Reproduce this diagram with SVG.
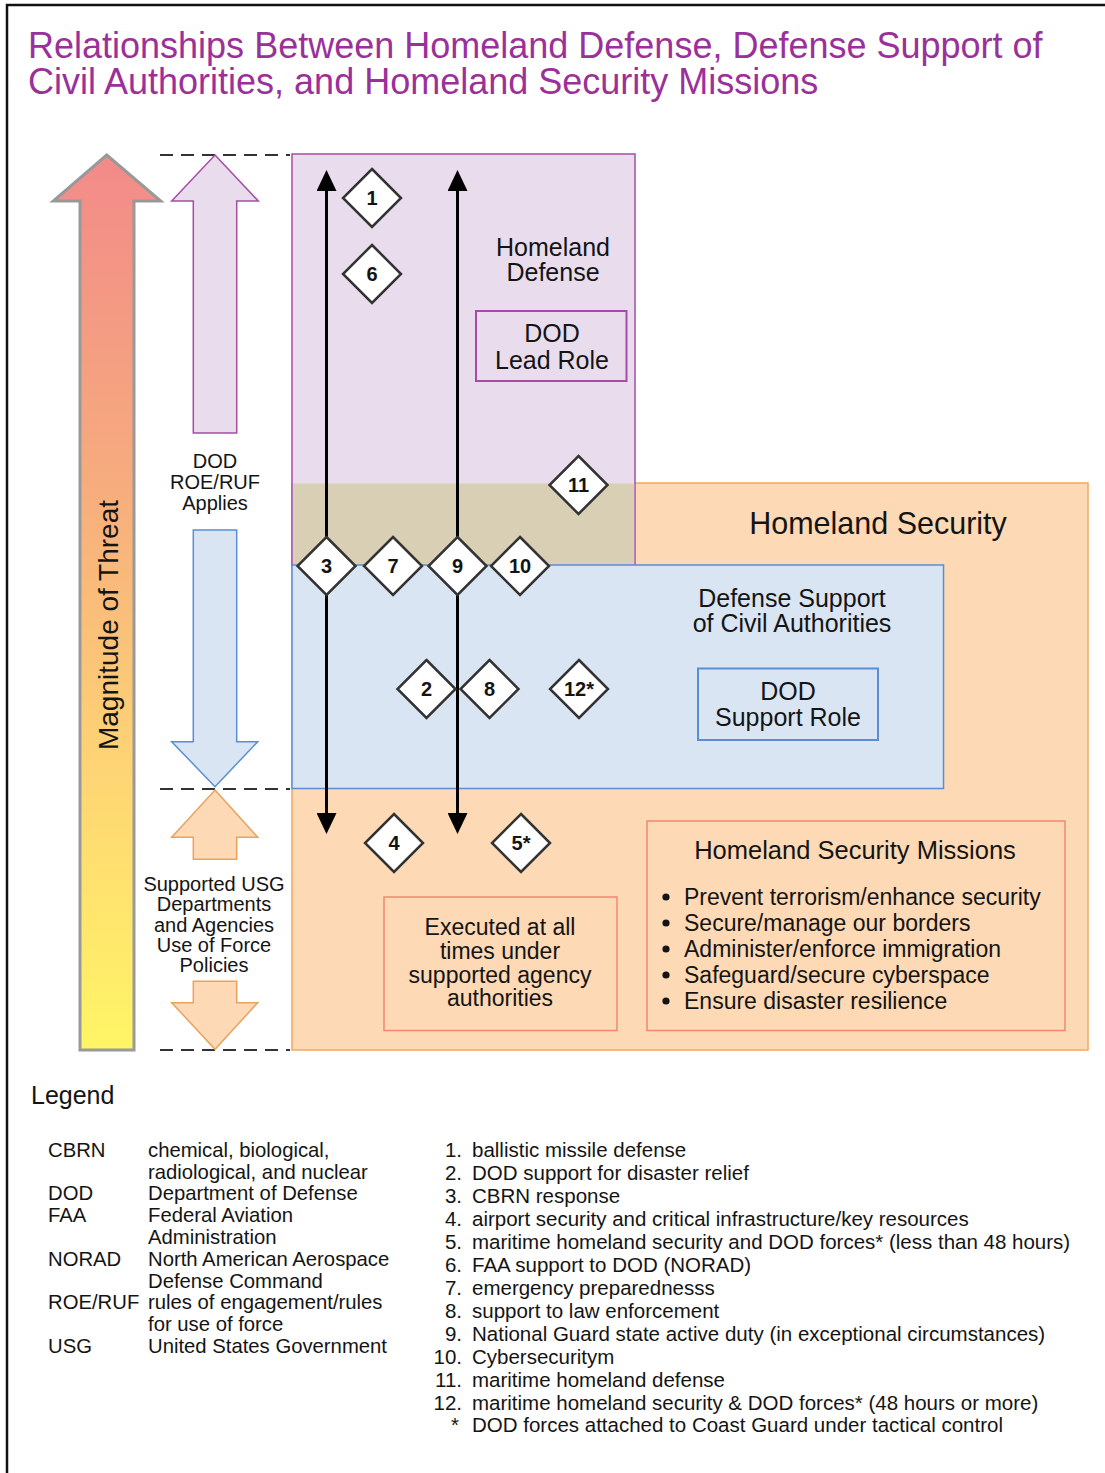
<svg xmlns="http://www.w3.org/2000/svg" width="1105" height="1473" viewBox="0 0 1105 1473">
<style>
text{font-family:"Liberation Sans",Arial,sans-serif;fill:#141414}
.title{font-size:36px;fill:#9B309B}
.c{text-anchor:middle}
.dia{fill:#fff;stroke:#333;stroke-width:2.5}
.dn{font-size:20px;font-weight:bold;text-anchor:middle}
.dash{stroke:#333;stroke-width:2;stroke-dasharray:13 8;fill:none}
.lg{font-size:20.3px}
.nl{font-size:20.5px}
</style>
<defs>
<linearGradient id="threat" x1="0" y1="155" x2="0" y2="1050" gradientUnits="userSpaceOnUse">
<stop offset="0" stop-color="#F28A89"/>
<stop offset="0.35" stop-color="#F6AA7E"/>
<stop offset="0.7" stop-color="#FED674"/>
<stop offset="1" stop-color="#FFF566"/>
</linearGradient>
<marker id="ah" viewBox="0 0 21 20" markerWidth="21" markerHeight="20" refX="0" refY="10" orient="auto-start-reverse" markerUnits="userSpaceOnUse">
<path d="M0,0 L21,10 L0,20 z" fill="#000"/>
</marker>
<polygon id="dia" class="dia" points="0,-29 29,0 0,29 -29,0"/>
</defs>
<rect width="1105" height="1473" fill="#fff"/>
<path d="M7,1473 V5 H1105" fill="none" stroke="#111" stroke-width="2.5"/>
<g id="title">
<text class="title" x="28" y="58">Relationships Between Homeland Defense, Defense Support of</text>
<text class="title" x="28" y="94">Civil Authorities, and Homeland Security Missions</text>
</g>
<g id="threat-arrow">
<polygon points="106.7,155 160.7,201 134,201 134,1050 80,1050 80,201 53.3,201" fill="url(#threat)" stroke="#999" stroke-width="3"/>
<text transform="translate(118,625) rotate(-90)" class="c" font-size="28">Magnitude of Threat</text>
</g>
<g id="dashes">
<line class="dash" x1="160" y1="155" x2="290" y2="155"/>
<line class="dash" x1="160" y1="789" x2="290" y2="789"/>
<line class="dash" x1="160" y1="1050" x2="290" y2="1050"/>
</g>
<g id="roe-arrows">
<polygon points="215,155 258.3,201 236.7,201 236.7,433 193.3,433 193.3,201 171.7,201" fill="#E9DDED" stroke="#A64CA6" stroke-width="1.5"/>
<polygon points="193.3,530 236.7,530 236.7,741.7 257.7,741.7 215,786.7 171.7,741.7 193.3,741.7" fill="#DAE5F3" stroke="#5B8DD3" stroke-width="1.5"/>
<text class="c" font-size="20" x="215" y="468">DOD</text>
<text class="c" font-size="20" x="215" y="489">ROE/RUF</text>
<text class="c" font-size="20" x="215" y="510">Applies</text>
</g>
<g id="usg-arrows">
<polygon points="215,790 257.7,837.3 236.7,837.3 236.7,859.3 193.3,859.3 193.3,837.3 171.7,837.3" fill="#FDD9B5" stroke="#E8A35E" stroke-width="1.5"/>
<polygon points="193.3,981.3 236.7,981.3 236.7,1002.7 257.7,1002.7 215,1049.3 171.7,1002.7 193.3,1002.7" fill="#FDD9B5" stroke="#E8A35E" stroke-width="1.5"/>
<text class="c" font-size="20" x="214" y="891">Supported USG</text>
<text class="c" font-size="20" x="214" y="911">Departments</text>
<text class="c" font-size="20" x="214" y="932">and Agencies</text>
<text class="c" font-size="20" x="214" y="952">Use of Force</text>
<text class="c" font-size="20" x="214" y="972">Policies</text>
</g>
<g id="homeland-security">
<rect x="292" y="483" width="796" height="567" fill="#FDD9B5" stroke="#F0A860" stroke-width="1.5"/>
<text class="c" font-size="30.5" x="878" y="534">Homeland Security</text>
</g>
<g id="homeland-defense">
<rect x="292" y="154" width="343" height="411" fill="#E9DDED" stroke="#A64CA6" stroke-width="1.5"/>
<rect x="293" y="483.5" width="341.2" height="81.5" fill="#D9CFB5"/>
<text class="c" font-size="25" x="553" y="256">Homeland</text>
<text class="c" font-size="25" x="553" y="281">Defense</text>
</g>
<g id="dod-lead-role">
<rect x="476" y="311" width="150.5" height="70" fill="none" stroke="#A64CA6" stroke-width="2"/>
<text class="c" font-size="25" x="552" y="342">DOD</text>
<text class="c" font-size="25" x="552" y="369">Lead Role</text>
</g>
<g id="dsca">
<rect x="292" y="565" width="651.5" height="223.5" fill="#DAE5F3" stroke="#5B8DD3" stroke-width="1.5"/>
<text class="c" font-size="25" x="792" y="607">Defense Support</text>
<text class="c" font-size="25" x="792" y="632">of Civil Authorities</text>
</g>
<g id="dod-support-role">
<rect x="698" y="668.5" width="180" height="71.5" fill="none" stroke="#5B8DD3" stroke-width="2"/>
<text class="c" font-size="25" x="788" y="700">DOD</text>
<text class="c" font-size="25" x="788" y="726">Support Role</text>
</g>
<g id="executed">
<rect x="384" y="897" width="233" height="133.5" fill="none" stroke="#F4876E" stroke-width="1.5"/>
<text class="c" font-size="23" x="500" y="935">Executed at all</text>
<text class="c" font-size="23" x="500" y="958.5">times under</text>
<text class="c" font-size="23" x="500" y="982.5">supported agency</text>
<text class="c" font-size="23" x="500" y="1005.5">authorities</text>
</g>
<g id="hs-missions">
<rect x="647" y="821" width="418" height="209.5" fill="none" stroke="#F4876E" stroke-width="1.5"/>
<text class="c" font-size="25.5" x="855" y="859">Homeland Security Missions</text>
<g font-size="23">
<circle cx="666" cy="897" r="3.6" fill="#141414"/>
<circle cx="666" cy="923" r="3.6" fill="#141414"/>
<circle cx="666" cy="949" r="3.6" fill="#141414"/>
<circle cx="666" cy="975" r="3.6" fill="#141414"/>
<circle cx="666" cy="1001" r="3.6" fill="#141414"/>
<text x="684" y="905">Prevent terrorism/enhance security</text>
<text x="684" y="931">Secure/manage our borders</text>
<text x="684" y="957">Administer/enforce immigration</text>
<text x="684" y="983">Safeguard/secure cyberspace</text>
<text x="684" y="1009">Ensure disaster resilience</text>
</g>
</g>
<g id="connectors">
<line x1="326.5" y1="191" x2="326.5" y2="813" stroke="#000" stroke-width="3" marker-start="url(#ah)" marker-end="url(#ah)"/>
<line x1="457.5" y1="191" x2="457.5" y2="813" stroke="#000" stroke-width="3" marker-start="url(#ah)" marker-end="url(#ah)"/>
</g>
<g id="d1"><use href="#dia" x="372" y="198"/><text class="dn" x="372" y="205">1</text></g>
<g id="d6"><use href="#dia" x="372" y="274"/><text class="dn" x="372" y="281">6</text></g>
<g id="d11"><use href="#dia" x="578.5" y="485"/><text class="dn" x="578.5" y="492">11</text></g>
<g id="d3"><use href="#dia" x="326.5" y="566"/><text class="dn" x="326.5" y="573">3</text></g>
<g id="d7"><use href="#dia" x="393" y="566"/><text class="dn" x="393" y="573">7</text></g>
<g id="d9"><use href="#dia" x="457.5" y="566"/><text class="dn" x="457.5" y="573">9</text></g>
<g id="d10"><use href="#dia" x="520" y="566"/><text class="dn" x="520" y="573">10</text></g>
<g id="d2"><use href="#dia" x="426.5" y="689"/><text class="dn" x="426.5" y="696">2</text></g>
<g id="d8"><use href="#dia" x="489.5" y="689"/><text class="dn" x="489.5" y="696">8</text></g>
<g id="d12"><use href="#dia" x="579" y="689"/><text class="dn" x="579" y="696">12*</text></g>
<g id="d4"><use href="#dia" x="394" y="843"/><text class="dn" x="394" y="850">4</text></g>
<g id="d5"><use href="#dia" x="521" y="843"/><text class="dn" x="521" y="850">5*</text></g>
<g id="legend">
<text x="31" y="1104" font-size="25">Legend</text>
<g class="lg">
<text x="48" y="1157">CBRN</text><text x="148" y="1157">chemical, biological,</text>
<text x="148" y="1178.5">radiological, and nuclear</text>
<text x="48" y="1200">DOD</text><text x="148" y="1200">Department of Defense</text>
<text x="48" y="1221.5">FAA</text><text x="148" y="1221.5">Federal Aviation</text>
<text x="148" y="1243.5">Administration</text>
<text x="48" y="1266">NORAD</text><text x="148" y="1266">North American Aerospace</text>
<text x="148" y="1287.5">Defense Command</text>
<text x="48" y="1309">ROE/RUF</text><text x="148" y="1309">rules of engagement/rules</text>
<text x="148" y="1330.5">for use of force</text>
<text x="48" y="1352.5">USG</text><text x="148" y="1352.5">United States Government</text>
</g>
<g class="nl">
<text x="462" y="1157" text-anchor="end">1.</text><text x="472" y="1157">ballistic missile defense</text>
<text x="462" y="1180" text-anchor="end">2.</text><text x="472" y="1180">DOD support for disaster relief</text>
<text x="462" y="1203" text-anchor="end">3.</text><text x="472" y="1203">CBRN response</text>
<text x="462" y="1226" text-anchor="end">4.</text><text x="472" y="1226">airport security and critical infrastructure/key resources</text>
<text x="462" y="1249" text-anchor="end">5.</text><text x="472" y="1249">maritime homeland security and DOD forces* (less than 48 hours)</text>
<text x="462" y="1272" text-anchor="end">6.</text><text x="472" y="1272">FAA support to DOD (NORAD)</text>
<text x="462" y="1295" text-anchor="end">7.</text><text x="472" y="1295">emergency preparednesss</text>
<text x="462" y="1318" text-anchor="end">8.</text><text x="472" y="1318">support to law enforcement</text>
<text x="462" y="1341" text-anchor="end">9.</text><text x="472" y="1341">National Guard state active duty (in exceptional circumstances)</text>
<text x="462" y="1363.5" text-anchor="end">10.</text><text x="472" y="1363.5">Cybersecuritym</text>
<text x="462" y="1386.5" text-anchor="end">11.</text><text x="472" y="1386.5">maritime homeland defense</text>
<text x="462" y="1409.5" text-anchor="end">12.</text><text x="472" y="1409.5">maritime homeland security &amp; DOD forces* (48 hours or more)</text>
<text x="455" y="1432" text-anchor="middle">*</text><text x="472" y="1432">DOD forces attached to Coast Guard under tactical control</text>
</g>
</g>
</svg>
